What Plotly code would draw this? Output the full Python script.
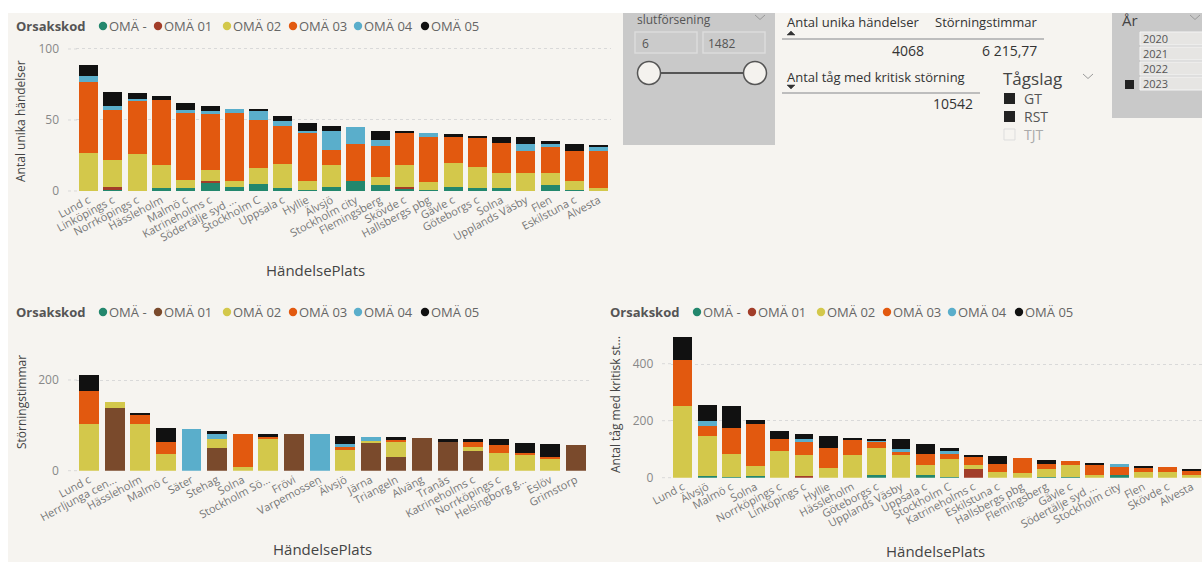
import plotly.graph_objects as go

# ---------------------------------------------------------------- data
codes = ["OMÄ -", "OMÄ 01", "OMÄ 02", "OMÄ 03", "OMÄ 04", "OMÄ 05"]

# Antal unika händelser per HändelsePlats
ev_places = ["Lund c", "Linköpings c", "Norrköpings c", "Hässleholm", "Malmö c",
             "Katrineholms c", "Södertälje syd ...", "Stockholm C", "Uppsala c", "Hyllie",
             "Älvsjö", "Stockholm city", "Flemingsberg", "Skövde c", "Hallsbergs pbg",
             "Gävle c", "Göteborgs c", "Solna", "Upplands Väsby", "Flen", "Eskilstuna c",
             "Alvesta"]
ev_oma_dash = [0, 1, 0, 2, 2, 6, 3, 5, 2, 1, 3, 7, 4, 2, 1, 3, 2, 2, 0, 4, 1, 0]
ev_oma_01 = [0, 2, 0, 0, 0, 1, 0, 0, 0, 0, 0, 0, 0, 1, 0, 0, 0, 0, 0, 0, 0, 0]
ev_oma_02 = [27, 19, 26, 16, 6, 8, 4, 11, 17, 6, 15, 0, 6, 15, 5, 17, 15, 11, 13, 9, 6, 2]
ev_oma_03 = [50, 35, 38, 46, 47, 39, 48, 34, 27, 34, 11, 26, 22, 23, 32, 18, 21, 21, 15, 18, 21, 26]
ev_oma_04 = [4, 3, 1, 0, 2, 2, 3, 6, 3, 1, 13, 12, 4, 0, 3, 0, 0, 0, 5, 2, 0, 3]
ev_oma_05 = [8, 10, 4, 3, 5, 4, 0, 2, 4, 6, 4, 0, 6, 1, 0, 2, 1, 4, 5, 2, 5, 1]

# Störningstimmar per HändelsePlats
hr_places = ["Lund c", "Herrljunga cen...", "Hässleholm", "Malmö c", "Säter", "Stehag",
             "Solna", "Stockholm Sö...", "Frövi", "Varpemossen", "Älvsjö", "Järna",
             "Triangeln", "Alväng", "Tranås", "Katrineholms c", "Norrköpings c",
             "Helsingborg g...", "Eslöv", "Grimstorp"]
hr_oma_dash = [0] * 20
hr_oma_01 = [0, 138, 0, 0, 0, 51, 0, 0, 80, 0, 0, 62, 30, 73, 64, 43, 0, 0, 0, 57]
hr_oma_02 = [102, 13, 102, 37, 0, 20, 9, 71, 0, 0, 46, 4, 34, 0, 0, 10, 40, 36, 26, 0]
hr_oma_03 = [74, 0, 22, 26, 0, 0, 71, 5, 0, 0, 7, 0, 3, 0, 0, 11, 16, 4, 5, 0]
hr_oma_04 = [0, 0, 0, 0, 92, 9, 0, 0, 0, 80, 6, 9, 0, 0, 0, 0, 0, 0, 0, 0]
hr_oma_05 = [34, 0, 2, 32, 0, 8, 0, 4, 0, 0, 18, 0, 7, 0, 7, 6, 13, 22, 28, 0]

# Antal tåg med kritisk störning per HändelsePlats
tr_places = ["Lund c", "Älvsjö", "Malmö c", "Solna", "Norrköpings c", "Linköpings c",
             "Hyllie", "Hässleholm", "Göteborgs c", "Upplands Väsby", "Uppsala c",
             "Stockholm C", "Katrineholms c", "Eskilstuna c", "Hallsbergs pbg",
             "Flemingsberg", "Gävle c", "Södertälje syd ...", "Stockholm city", "Flen",
             "Skövde c", "Alvesta"]
tr_oma_dash = [0, 6, 3, 6, 0, 0, 0, 0, 9, 0, 9, 3, 0, 0, 0, 3, 3, 0, 9, 0, 0, 0]
tr_oma_01 = [0, 0, 0, 0, 0, 6, 0, 0, 0, 0, 0, 0, 30, 0, 0, 0, 0, 0, 0, 0, 0, 0]
tr_oma_02 = [253, 141, 82, 36, 95, 74, 35, 80, 97, 80, 35, 62, 15, 21, 15, 28, 41, 9, 0, 21, 19, 8]
tr_oma_03 = [160, 34, 91, 148, 43, 47, 68, 53, 20, 9, 41, 21, 27, 27, 56, 19, 15, 39, 28, 15, 19, 16]
tr_oma_04 = [0, 19, 0, 0, 0, 8, 0, 0, 5, 12, 0, 7, 0, 0, 0, 0, 0, 0, 10, 0, 0, 0]
tr_oma_05 = [84, 55, 75, 13, 28, 20, 43, 7, 7, 34, 35, 12, 9, 27, 0, 14, 0, 2, 0, 5, 0, 5]

# KPI cards and slicers
kpi_events = "4068"
kpi_hours = "6 215,77"
kpi_trains = "10542"
delay_range = ["6", "1482"]
train_types = ["GT", "RST", "TJT"]
years = ["2020", "2021", "2022", "2023"]

# ---------------------------------------------------------------- style
W, H = 1202, 562
FONT = "Open Sans"
TEAL, RED01, BROWN01 = "#23876d", "#a23d29", "#7a4a2c"
YELLOW, ORANGE, BLUE, BLACK = "#d3c84b", "#e2590f", "#5aaecb", "#111111"
pal_red = [TEAL, RED01, YELLOW, ORANGE, BLUE, BLACK]
pal_brown = [TEAL, BROWN01, YELLOW, ORANGE, BLUE, BLACK]
BG = "#f6f4f0"
SLICER = "#c9c9c9"


def fx(x):
    return x / W


def fy(y):
    return 1 - y / H


fig = go.Figure()

panels = [
    ("x", "y", ev_places, [ev_oma_dash, ev_oma_01, ev_oma_02, ev_oma_03, ev_oma_04, ev_oma_05], pal_red),
    ("x2", "y2", hr_places, [hr_oma_dash, hr_oma_01, hr_oma_02, hr_oma_03, hr_oma_04, hr_oma_05], pal_brown),
    ("x3", "y3", tr_places, [tr_oma_dash, tr_oma_01, tr_oma_02, tr_oma_03, tr_oma_04, tr_oma_05], pal_red),
]
for xa, ya, places, series, pal in panels:
    for code, vals, col in zip(codes, series, pal):
        fig.add_trace(go.Bar(x=places, y=vals, name=code, xaxis=xa, yaxis=ya,
                             marker=dict(color=col, line=dict(width=0)),
                             showlegend=False))


def cat_axis(x0, x1, places, right_pad=0.0):
    return dict(domain=[fx(x0), min(1.0, fx(x1))], type="category",
                range=[-0.5, len(places) - 0.5 + right_pad],
                tickmode="array", tickvals=places, ticktext=places,
                tickangle=-28, tickfont=dict(size=11, color="#777777"),
                showgrid=False, showline=False, zeroline=False, ticks="",
                automargin=False, fixedrange=True)


def val_axis(y_bottom, y_top, top_value, tickvals, anchor):
    return dict(domain=[fy(y_bottom), fy(y_top)], range=[0, top_value],
                tickvals=tickvals, tickfont=dict(size=12, color="#888888"),
                showgrid=True, gridcolor="#d9d9d9", griddash="dot", gridwidth=1,
                zeroline=False, showline=False, ticks="outside", ticklen=14,
                tickcolor="rgba(0,0,0,0)", anchor=anchor, automargin=False,
                fixedrange=True)


fig.update_layout(
    width=W, height=H, autosize=False,
    margin=dict(l=0, r=0, t=0, b=0, pad=0),
    paper_bgcolor="white", plot_bgcolor="rgba(0,0,0,0)",
    font=dict(family=FONT, color="#555555"),
    barmode="stack", bargap=0.22, showlegend=False,
    xaxis=dict(cat_axis(76.4, 611, ev_places), anchor="y"),
    yaxis=val_axis(191, 44, 103.5, [0, 50, 100], "x"),
    xaxis2=dict(cat_axis(76.2, 588.6, hr_places), anchor="y2"),
    yaxis2=val_axis(470.7, 346, 275, [0, 200], "x2"),
    xaxis3=dict(cat_axis(670.7, 1202, tr_places, right_pad=-0.08), anchor="y3"),
    yaxis3=val_axis(477.7, 330, 520, [0, 200, 400], "x3"),
)

shapes = []


def rect(x0, y0, x1, y1, fill, line_color=None, line_width=0):
    shapes.append(dict(type="rect", xref="paper", yref="paper", layer="below",
                       x0=fx(x0), x1=fx(x1), y0=fy(y1), y1=fy(y0), fillcolor=fill,
                       line=dict(color=line_color or fill, width=line_width)))


def hline(x0, x1, y, color, width, dash="solid", layer="above"):
    shapes.append(dict(type="line", xref="paper", yref="paper", layer=layer,
                       x0=fx(x0), x1=fx(x1), y0=fy(y), y1=fy(y),
                       line=dict(color=color, width=width, dash=dash)))


def circle(cx, cy, r, fill, line_color=None, line_width=0, layer="above"):
    shapes.append(dict(type="circle", xref="paper", yref="paper", layer=layer,
                       x0=fx(cx - r), x1=fx(cx + r), y0=fy(cy + r), y1=fy(cy - r),
                       fillcolor=fill, line=dict(color=line_color or fill, width=line_width)))


def path(points, fill=None, color="#999999", width=1.2, closed=False):
    d = "M " + " L ".join(f"{fx(x):.5f},{fy(y):.5f}" for x, y in points)
    if closed:
        d += " Z"
    shapes.append(dict(type="path", xref="paper", yref="paper", path=d,
                       fillcolor=fill or "rgba(0,0,0,0)",
                       line=dict(color=color, width=width)))


def chevron(cx, cy):
    path([(cx - 5, cy - 2), (cx, cy + 2.5), (cx + 5, cy - 2)], color="#9a9a9a", width=1)


def note(x, y, s, size=12, color="#555555", anchor="left", angle=0, yanchor="middle"):
    fig.add_annotation(x=fx(x), y=fy(y), xref="paper", yref="paper", text=s,
                       showarrow=False, xanchor=anchor, yanchor=yanchor,
                       textangle=angle, borderpad=0,
                       font=dict(family=FONT, size=size, color=color))


# canvas
rect(8, 13, W, H, BG)

# short grid stubs left of each plot area (grid runs a little past the axis)
for y in (191, 120, 49):
    hline(68, 77, y, "#d9d9d9", 1, "dot", "below")
for y in (470.7, 380):
    hline(68, 77, y, "#d9d9d9", 1, "dot", "below")
for y in (477.7, 420.7, 363.7):
    hline(662, 671, y, "#d9d9d9", 1, "dot", "below")

# legends ("Orsakskod")
dot_offsets = [88, 143, 212, 278, 343, 410]


def legend(x0, y, pal):
    note(x0, y, "<b>Orsakskod</b>", size=13, color="#555555")
    for off, code, col in zip(dot_offsets, codes, pal):
        circle(x0 + off, y, 4.2, col)
        note(x0 + off + 5, y, code, size=13, color="#666666")


legend(15, 26, pal_red)
legend(15, 312, pal_brown)
legend(609, 312, pal_red)

# axis titles
note(20, 121, "Antal unika händelser", size=12, color="#444444", anchor="center", angle=-90)
note(21, 402, "Störningstimmar", size=12, color="#444444", anchor="center", angle=-90)
note(615, 405, "Antal tåg med kritisk st...", size=12, color="#444444", anchor="center", angle=-90)
note(315, 270, "HändelsePlats", size=15, color="#444444", anchor="center")
note(322, 549, "HändelsePlats", size=15, color="#444444", anchor="center")
note(935, 551, "HändelsePlats", size=15, color="#444444", anchor="center")

# slicer: slutförsening
rect(623, 13, 775, 145, SLICER)
note(636, 19, "slutförsening", size=12, color="#555555")
chevron(760, 17)
rect(635, 32, 697, 53, "#cbcbcb", "#dcdcdc", 1.5)
rect(703, 32, 765, 53, "#cbcbcb", "#dcdcdc", 1.5)
note(641, 43, delay_range[0], size=12, color="#555555")
note(707, 43, delay_range[1], size=12, color="#555555")
hline(649, 755, 73, "#555555", 2)
circle(649, 73, 11.5, "#f4f2ee", "#555555", 1.5)
circle(755, 73, 11.5, "#f4f2ee", "#555555", 1.5)

# KPI table cards
note(786, 22, "Antal unika händelser", size=13, color="#333333")
note(934, 22, "Störningstimmar", size=13, color="#333333")
path([(787, 35), (791, 31), (795, 35)], fill="#333333", color="#333333", width=0.5, closed=True)
hline(782, 1044, 39, "#bdbdbd", 2)
note(925, 50, kpi_events, size=14, color="#333333", anchor="right")
note(1038, 50, kpi_hours, size=14, color="#333333", anchor="right")

note(786, 77, "Antal tåg med kritisk störning", size=13, color="#333333")
path([(787, 85), (795, 85), (791, 89)], fill="#333333", color="#333333", width=0.5, closed=True)
hline(782, 980, 93, "#bdbdbd", 2)
note(974, 103, kpi_trains, size=14, color="#333333", anchor="right")

# slicer: Tågslag
note(1002, 78, "Tågslag", size=17, color="#444444")
chevron(1088, 76)
for i, t in enumerate(train_types):
    yc = 98.5 + 18 * i
    if i < 2:
        rect(1004, yc - 5.5, 1015, yc + 5.5, "#222222")
        note(1023, yc, t, size=14, color="#555555")
    else:
        rect(1004, yc - 5.5, 1015, yc + 5.5, "rgba(0,0,0,0)", "#dddddd", 1)
        note(1023, yc, t, size=14, color="#aaaaaa")

# slicer: År
rect(1112, 13, W, 118, SLICER)
note(1121, 20, "År", size=15, color="#444444")
chevron(1195, 17)
for i, yr in enumerate(years):
    yc = 38.5 + 15 * i
    rect(1140, yc - 6.5, W + 2, yc + 6.5, "#e6e5e3", "#f4f4f4", 1)
    note(1142, yc, yr, size=11, color="#555555")
rect(1125, 80, 1134, 89, "#222222")

fig.update_layout(shapes=shapes)

fig.write_html("out.html")
